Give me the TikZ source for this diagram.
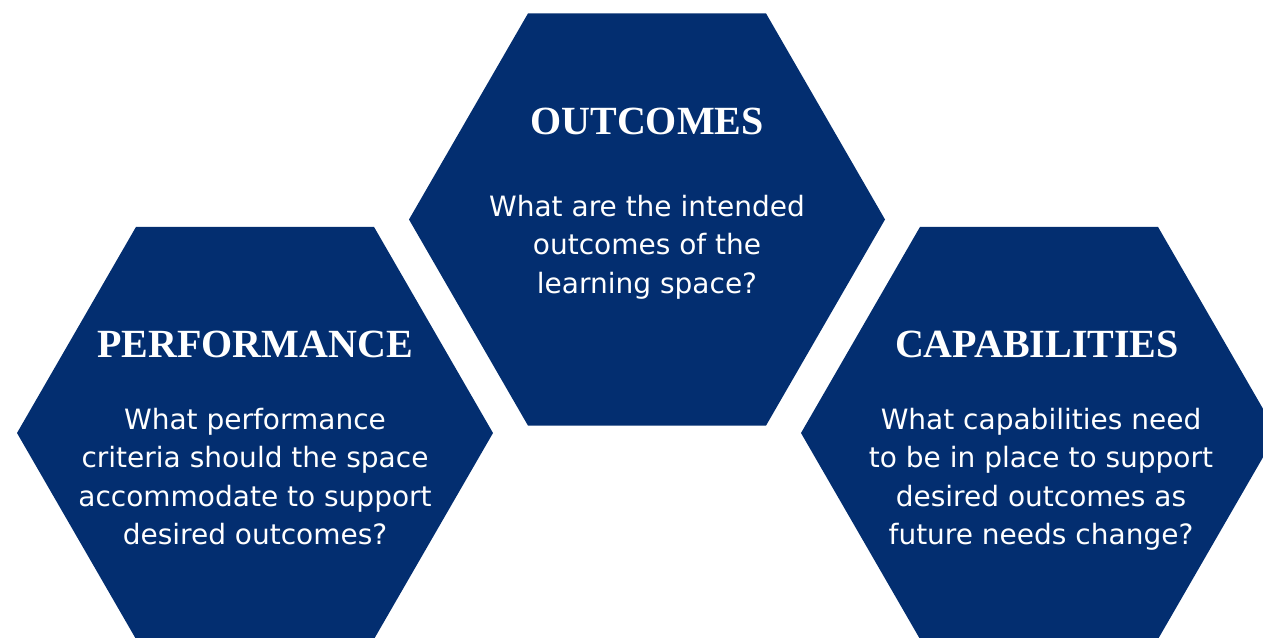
\documentclass[tikz,border=0pt]{standalone}
\usepackage{fontspec}
\setmainfont{Liberation Serif}
\newfontfamily\questionfont{DejaVu Sans}
\usetikzlibrary{shapes.geometric,positioning}
\definecolor{hexblue}{RGB}{3,46,112}

\begin{document}
\begin{tikzpicture}[x=0.75pt, y=-0.75pt,
        hexa/.style={regular polygon, regular polygon sides=6, minimum size=357pt,
            inner sep=0pt, outer sep=0pt, fill=hexblue},
        heading/.style={text=white, font=\fontsize{30}{36}\selectfont\bfseries,
            inner sep=0pt, anchor=base},
        question/.style={text=white, align=center, inner sep=0pt,
            font=\questionfont\fontsize{21}{28.9}\selectfont}]
        \useasboundingbox (0,0) rectangle (1263,637);
        \clip (0,0) rectangle (1263,637);

        % the three hexagons
        \node[hexa] (outcomes) at (647,219.5) {};
        \node[hexa] (performance) at (255,433) {};
        \node[hexa] (capabilities) at (1039,433) {};

        % titles
        \node[heading] (outcomes-title) at (647,134) {OUTCOMES};
        \node[heading] (performance-title) at (255,357) {PERFORMANCE};
        \node[heading] (capabilities-title) at (1037,357) {CAPABILITIES};

        % questions
        \node[question, below=45pt of outcomes-title] (outcomes-text)
            {What are the intended\\outcomes of the\\learning space?};
        \node[question, below=37.5pt of performance-title] (performance-text)
            {What performance\\criteria should the space\\accommodate to support\\desired outcomes?};
        \node[question, below=37.5pt of capabilities-title, xshift=3pt] (capabilities-text)
            {What capabilities need\\to be in place to support\\desired outcomes as\\future needs change?};
    \end{tikzpicture}
\end{document}
